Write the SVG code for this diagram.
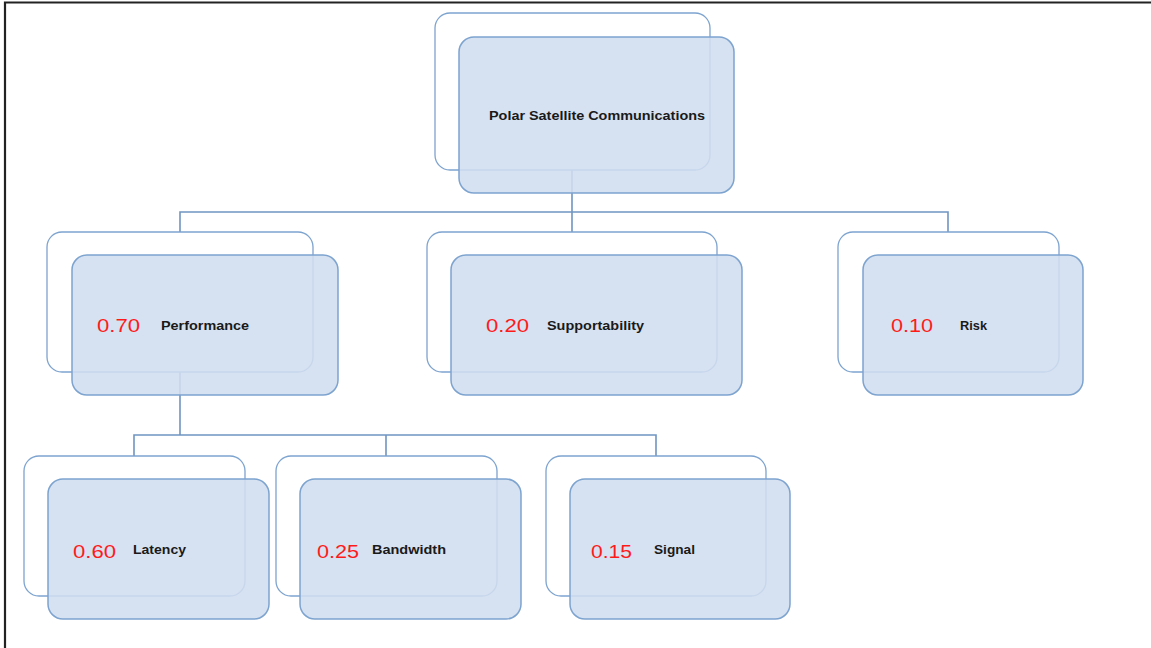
<svg xmlns="http://www.w3.org/2000/svg" width="1151" height="648" viewBox="0 0 1151 648">
<style>
.back{fill:#ffffff;stroke:#7da3cf;stroke-width:1.3}
.front{fill:#d0ddef;fill-opacity:0.88;stroke:#7da3cf;stroke-width:1.5}
.conn{fill:none;stroke:#6f95c2;stroke-width:1.6}
.lbl{font-family:"Liberation Sans",Arial,sans-serif;font-size:13px;font-weight:bold;fill:#1a1a1a}
.num{font-family:"Liberation Sans",Arial,sans-serif;font-size:19px;fill:#ff1a1a}
</style>
<rect x="0" y="0" width="1151" height="648" fill="#ffffff"/>
<path d="M1151 2.5 H5 V648" fill="none" stroke="#222" stroke-width="2.2"/>
<g id="connectors">
<path class="conn" d="M572 170 V212 M180 232 V212 H948 V232 M572 212 V232"/>
<path class="conn" d="M180 372 V435 M134 456 V435 H656 V456 M386 435 V456"/>
</g>
<g id="root">
<rect class="back" x="435" y="13" width="275" height="157" rx="15"/>
<rect class="front" x="459" y="37" width="275" height="156" rx="15"/>
<text class="lbl" x="489" y="120" textLength="216" lengthAdjust="spacingAndGlyphs">Polar Satellite Communications</text>
</g>
<g id="performance">
<rect class="back" x="47" y="232" width="266" height="140" rx="15"/>
<rect class="front" x="72" y="255" width="266" height="140" rx="15"/>
<text class="num" x="97" y="332" textLength="43" lengthAdjust="spacingAndGlyphs">0.70</text>
<text class="lbl" x="161" y="330" textLength="88" lengthAdjust="spacingAndGlyphs">Performance</text>
</g>
<g id="supportability">
<rect class="back" x="427" y="232" width="290" height="140" rx="15"/>
<rect class="front" x="451" y="255" width="291" height="140" rx="15"/>
<text class="num" x="486" y="332" textLength="43" lengthAdjust="spacingAndGlyphs">0.20</text>
<text class="lbl" x="547" y="330" textLength="97" lengthAdjust="spacingAndGlyphs">Supportability</text>
</g>
<g id="risk">
<rect class="back" x="838" y="232" width="221" height="140" rx="15"/>
<rect class="front" x="863" y="255" width="220" height="140" rx="15"/>
<text class="num" x="891" y="332" textLength="42" lengthAdjust="spacingAndGlyphs">0.10</text>
<text class="lbl" x="960" y="330" textLength="27" lengthAdjust="spacingAndGlyphs">Risk</text>
</g>
<g id="latency">
<rect class="back" x="24" y="456" width="221" height="140" rx="15"/>
<rect class="front" x="48" y="479" width="221" height="140" rx="15"/>
<text class="num" x="73" y="558" textLength="43" lengthAdjust="spacingAndGlyphs">0.60</text>
<text class="lbl" x="133" y="554" textLength="53" lengthAdjust="spacingAndGlyphs">Latency</text>
</g>
<g id="bandwidth">
<rect class="back" x="276" y="456" width="221" height="140" rx="15"/>
<rect class="front" x="300" y="479" width="221" height="140" rx="15"/>
<text class="num" x="317" y="558" textLength="42" lengthAdjust="spacingAndGlyphs">0.25</text>
<text class="lbl" x="372" y="554" textLength="74" lengthAdjust="spacingAndGlyphs">Bandwidth</text>
</g>
<g id="signal">
<rect class="back" x="546" y="456" width="220" height="140" rx="15"/>
<rect class="front" x="570" y="479" width="220" height="140" rx="15"/>
<text class="num" x="591" y="558" textLength="41" lengthAdjust="spacingAndGlyphs">0.15</text>
<text class="lbl" x="654" y="554" textLength="41" lengthAdjust="spacingAndGlyphs">Signal</text>
</g>
</svg>
